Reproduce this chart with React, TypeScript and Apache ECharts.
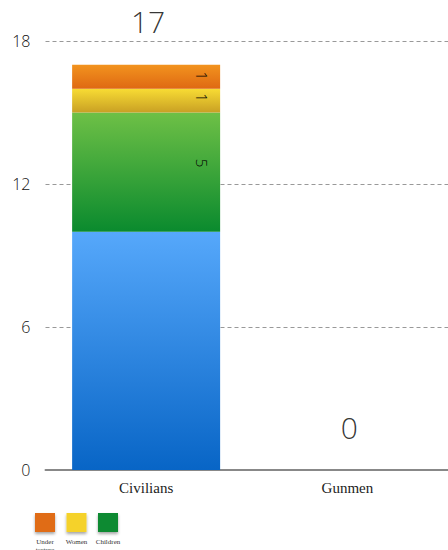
import React, { useEffect, useRef } from "react";
import * as echarts from "echarts";

// Casualty breakdown per group
const categories = ["Civilians", "Gunmen"];
const menValues = [10, 0];
const childrenValues = [5, 0];
const womenValues = [1, 0];
const tortureValues = [1, 0];
const yTicks = { min: 0, max: 18, interval: 6 };

// Legend entries (drawn under the chart)
const legendNames = ["Under\ntorture", "Women", "Children"];
const legendColors = ["#e06c12", "#f5d22a", "#0a8a30"];

const totals = categories.map(
  (_, i) => menValues[i] + childrenValues[i] + womenValues[i] + tortureValues[i]
);

const grad = (top: string, bottom: string) =>
  new echarts.graphic.LinearGradient(0, 0, 0, 1, [
    { offset: 0, color: top },
    { offset: 1, color: bottom },
  ]);

// Vertical segment label; the offset is in the rotated frame, so a negative x lifts it
const segLabel = (lift: number) => ({
  show: true,
  position: "insideRight" as const,
  distance: 18,
  rotate: -90,
  align: "center" as const,
  verticalAlign: "middle" as const,
  offset: [-lift, 0],
  fontFamily: "Open Sans, Liberation Sans, sans-serif",
  fontWeight: 300,
  fontSize: 15,
  color: "#000",
  formatter: (p: any) => (p.value > 0 ? String(p.value) : ""),
});

export default function App() {
  const ref = useRef<HTMLDivElement>(null);

  useEffect(() => {
    if (!ref.current) return;
    const chart = echarts.init(ref.current, null, { renderer: "svg" });

    const legendGraphic = legendNames.map((name, i) => {
      const x = 35 + i * 31.5;
      return {
        type: "group",
        x,
        y: 513,
        children: [
          {
            type: "rect",
            shape: { x: 0, y: 0, width: 20, height: 19 },
            style: {
              fill: legendColors[i],
              shadowBlur: 3,
              shadowOffsetY: 2,
              shadowColor: "rgba(0,0,0,0.35)",
            },
          },
          {
            type: "text",
            x: 10,
            y: 25,
            style: {
              text: name,
              fill: "#333",
              font: "7px 'Liberation Serif', serif",
              align: "center",
              verticalAlign: "top",
              lineHeight: 8,
            },
          },
        ],
      };
    });

    chart.setOption({
      animation: false,
      grid: { left: 45.5, width: 406, top: 41, bottom: 80, containLabel: false },
      xAxis: {
        type: "category",
        data: categories,
        axisLine: { lineStyle: { color: "#888", width: 2 } },
        axisTick: { show: false },
        axisLabel: {
          margin: 10,
          fontFamily: "'Liberation Serif', 'DejaVu Serif', serif",
          fontSize: 15,
          color: "#222",
        },
      },
      yAxis: {
        type: "value",
        min: yTicks.min,
        max: yTicks.max,
        interval: yTicks.interval,
        axisLine: { show: false },
        axisTick: { show: false },
        axisLabel: {
          margin: 15,
          fontFamily: "Open Sans, Liberation Sans, sans-serif",
          fontWeight: 300,
          fontSize: 16,
          color: "#111",
        },
        splitLine: {
          lineStyle: { color: "#999", type: [4, 3], width: 1 },
        },
      },
      series: [
        {
          name: "Men",
          type: "bar",
          stack: "total",
          barWidth: 148,
          data: menValues,
          itemStyle: { color: grad("#56a8fb", "#0865c6") },
        },
        {
          name: "Children",
          type: "bar",
          stack: "total",
          barWidth: 148,
          data: childrenValues,
          itemStyle: { color: grad("#6ec046", "#0a8a2e") },
          label: segLabel(9),
        },
        {
          name: "Women",
          type: "bar",
          stack: "total",
          barWidth: 148,
          data: womenValues,
          itemStyle: { color: grad("#f8dc34", "#c9a024") },
          label: segLabel(3),
        },
        {
          name: "Under torture",
          type: "bar",
          stack: "total",
          barWidth: 148,
          data: tortureValues,
          itemStyle: { color: grad("#f2931e", "#df6913") },
          label: segLabel(1),
        },
        {
          name: "Total",
          type: "scatter",
          data: totals,
          symbolSize: 1,
          itemStyle: { color: "rgba(0,0,0,0)" },
          label: {
            show: true,
            position: "inside",
            offset: [2, -43],
            fontFamily: "Open Sans, Liberation Sans, sans-serif",
            fontWeight: 300,
            fontSize: 30,
            color: "#000",
            formatter: (p: any) => String(p.value),
          },
          z: 10,
        },
      ],
      graphic: legendGraphic,
    });

    return () => chart.dispose();
  }, []);

  return (
    <div
      ref={ref}
      style={{ position: "fixed", left: 0, top: 0, width: 448, height: 550, background: "#fff" }}
    />
  );
}
